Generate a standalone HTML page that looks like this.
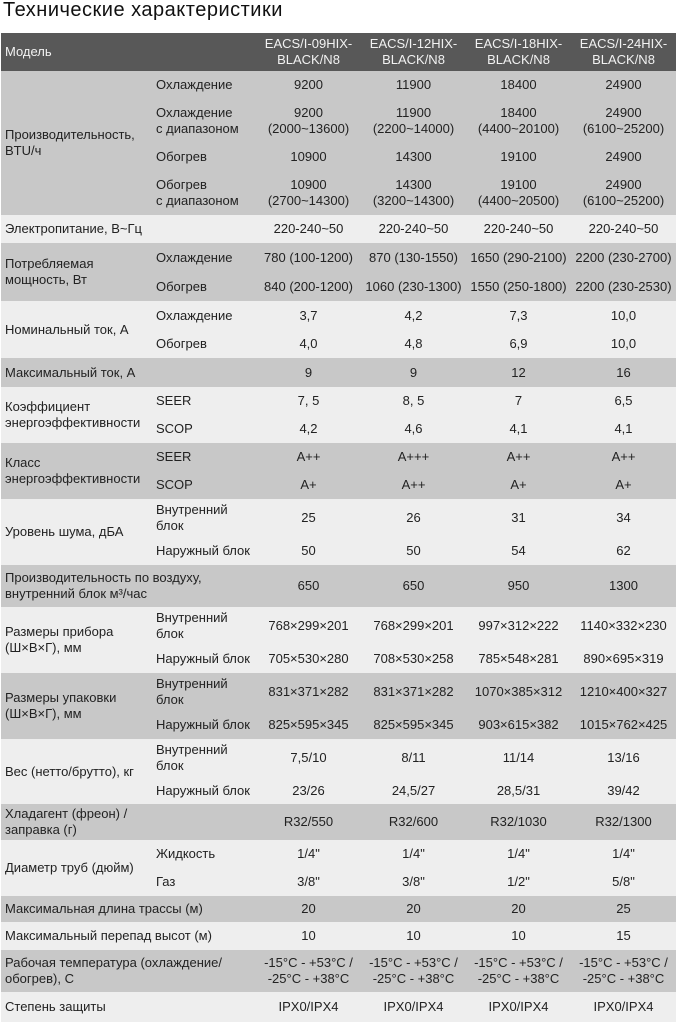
<!DOCTYPE html>
<html><head><meta charset="utf-8">
<style>
body{margin:0;width:678px;height:1026px;background:#fff;position:relative;font-family:"Liberation Sans",sans-serif;color:#222;font-size:13px;overflow:hidden}
.t{position:absolute;left:3px;top:-2px;font-size:20px;letter-spacing:0.5px;line-height:24px;color:#111;white-space:nowrap}
.g{position:absolute;left:1px;width:675px;display:flex;flex-direction:column}
.gr{background:#c8c8c8}
.lt{background:#eeeeee}
.hd{background:#585858;color:#f2f2f2}
.L{position:absolute;left:4px;top:0;height:100%;display:flex;align-items:center;white-space:nowrap;line-height:16px}
.r{display:flex;align-items:center;flex:none}
.s{margin-left:155px;width:100px;flex:none;line-height:16px;white-space:nowrap}
.v{width:105px;flex:none;text-align:center;line-height:16px;white-space:nowrap}
</style></head><body>
<div class="t">Технические характеристики</div>

<div class="g hd" style="top:33px;height:38px">
 <div class="L">Модель</div>
 <div class="r" style="height:38px"><span class="s"></span><span class="v">EACS/I-09HIX-<br>BLACK/N8</span><span class="v">EACS/I-12HIX-<br>BLACK/N8</span><span class="v">EACS/I-18HIX-<br>BLACK/N8</span><span class="v">EACS/I-24HIX-<br>BLACK/N8</span></div>
</div>

<div class="g gr" style="top:71px;height:144px">
 <div class="L">Производительность,<br>BTU/ч</div>
 <div class="r" style="height:28px"><span class="s">Охлаждение</span><span class="v">9200</span><span class="v">11900</span><span class="v">18400</span><span class="v">24900</span></div>
 <div class="r" style="height:44px"><span class="s">Охлаждение<br>с диапазоном</span><span class="v">9200<br>(2000~13600)</span><span class="v">11900<br>(2200~14000)</span><span class="v">18400<br>(4400~20100)</span><span class="v">24900<br>(6100~25200)</span></div>
 <div class="r" style="height:28px"><span class="s">Обогрев</span><span class="v">10900</span><span class="v">14300</span><span class="v">19100</span><span class="v">24900</span></div>
 <div class="r" style="height:44px"><span class="s">Обогрев<br>с диапазоном</span><span class="v">10900<br>(2700~14300)</span><span class="v">14300<br>(3200~14300)</span><span class="v">19100<br>(4400~20500)</span><span class="v">24900<br>(6100~25200)</span></div>
</div>

<div class="g lt" style="top:215px;height:28px">
 <div class="L">Электропитание, В~Гц</div>
 <div class="r" style="height:28px"><span class="s"></span><span class="v">220-240~50</span><span class="v">220-240~50</span><span class="v">220-240~50</span><span class="v">220-240~50</span></div>
</div>

<div class="g gr" style="top:243px;height:58px">
 <div class="L">Потребляемая<br>мощность, Вт</div>
 <div class="r" style="height:29px"><span class="s">Охлаждение</span><span class="v">780 (100-1200)</span><span class="v">870 (130-1550)</span><span class="v">1650 (290-2100)</span><span class="v">2200 (230-2700)</span></div>
 <div class="r" style="height:29px"><span class="s">Обогрев</span><span class="v">840 (200-1200)</span><span class="v">1060 (230-1300)</span><span class="v">1550 (250-1800)</span><span class="v">2200 (230-2530)</span></div>
</div>

<div class="g lt" style="top:301px;height:57px">
 <div class="L">Номинальный ток, А</div>
 <div class="r" style="height:29px"><span class="s">Охлаждение</span><span class="v">3,7</span><span class="v">4,2</span><span class="v">7,3</span><span class="v">10,0</span></div>
 <div class="r" style="height:28px"><span class="s">Обогрев</span><span class="v">4,0</span><span class="v">4,8</span><span class="v">6,9</span><span class="v">10,0</span></div>
</div>

<div class="g gr" style="top:358px;height:29px">
 <div class="L">Максимальный ток, А</div>
 <div class="r" style="height:29px"><span class="s"></span><span class="v">9</span><span class="v">9</span><span class="v">12</span><span class="v">16</span></div>
</div>

<div class="g lt" style="top:387px;height:56px">
 <div class="L">Коэффициент<br>энергоэффективности</div>
 <div class="r" style="height:28px"><span class="s">SEER</span><span class="v">7, 5</span><span class="v">8, 5</span><span class="v">7</span><span class="v">6,5</span></div>
 <div class="r" style="height:28px"><span class="s">SCOP</span><span class="v">4,2</span><span class="v">4,6</span><span class="v">4,1</span><span class="v">4,1</span></div>
</div>

<div class="g gr" style="top:443px;height:56px">
 <div class="L">Класс<br>энергоэффективности</div>
 <div class="r" style="height:28px"><span class="s">SEER</span><span class="v">A++</span><span class="v">A+++</span><span class="v">A++</span><span class="v">A++</span></div>
 <div class="r" style="height:28px"><span class="s">SCOP</span><span class="v">A+</span><span class="v">A++</span><span class="v">A+</span><span class="v">A+</span></div>
</div>

<div class="g lt" style="top:499px;height:66px">
 <div class="L">Уровень шума, дБА</div>
 <div class="r" style="height:38px"><span class="s">Внутренний<br>блок</span><span class="v">25</span><span class="v">26</span><span class="v">31</span><span class="v">34</span></div>
 <div class="r" style="height:28px"><span class="s">Наружный блок</span><span class="v">50</span><span class="v">50</span><span class="v">54</span><span class="v">62</span></div>
</div>

<div class="g gr" style="top:565px;height:42px">
 <div class="L">Производительность по воздуху,<br>внутренний блок м³/час</div>
 <div class="r" style="height:42px"><span class="s"></span><span class="v">650</span><span class="v">650</span><span class="v">950</span><span class="v">1300</span></div>
</div>

<div class="g lt" style="top:607px;height:66px">
 <div class="L">Размеры прибора<br>(Ш×В×Г), мм</div>
 <div class="r" style="height:38px"><span class="s">Внутренний<br>блок</span><span class="v">768×299×201</span><span class="v">768×299×201</span><span class="v">997×312×222</span><span class="v">1140×332×230</span></div>
 <div class="r" style="height:28px"><span class="s">Наружный блок</span><span class="v">705×530×280</span><span class="v">708×530×258</span><span class="v">785×548×281</span><span class="v">890×695×319</span></div>
</div>

<div class="g gr" style="top:673px;height:66px">
 <div class="L">Размеры упаковки<br>(Ш×В×Г), мм</div>
 <div class="r" style="height:38px"><span class="s">Внутренний<br>блок</span><span class="v">831×371×282</span><span class="v">831×371×282</span><span class="v">1070×385×312</span><span class="v">1210×400×327</span></div>
 <div class="r" style="height:28px"><span class="s">Наружный блок</span><span class="v">825×595×345</span><span class="v">825×595×345</span><span class="v">903×615×382</span><span class="v">1015×762×425</span></div>
</div>

<div class="g lt" style="top:739px;height:65px">
 <div class="L">Вес (нетто/брутто), кг</div>
 <div class="r" style="height:38px"><span class="s">Внутренний<br>блок</span><span class="v">7,5/10</span><span class="v">8/11</span><span class="v">11/14</span><span class="v">13/16</span></div>
 <div class="r" style="height:27px"><span class="s">Наружный блок</span><span class="v">23/26</span><span class="v">24,5/27</span><span class="v">28,5/31</span><span class="v">39/42</span></div>
</div>

<div class="g gr" style="top:804px;height:36px">
 <div class="L">Хладагент (фреон) /<br>заправка (г)</div>
 <div class="r" style="height:36px"><span class="s"></span><span class="v">R32/550</span><span class="v">R32/600</span><span class="v">R32/1030</span><span class="v">R32/1300</span></div>
</div>

<div class="g lt" style="top:840px;height:56px">
 <div class="L">Диаметр труб (дюйм)</div>
 <div class="r" style="height:28px"><span class="s">Жидкость</span><span class="v">1/4"</span><span class="v">1/4"</span><span class="v">1/4"</span><span class="v">1/4"</span></div>
 <div class="r" style="height:28px"><span class="s">Газ</span><span class="v">3/8"</span><span class="v">3/8"</span><span class="v">1/2"</span><span class="v">5/8"</span></div>
</div>

<div class="g gr" style="top:896px;height:26px">
 <div class="L">Максимальная длина трассы (м)</div>
 <div class="r" style="height:26px"><span class="s"></span><span class="v">20</span><span class="v">20</span><span class="v">20</span><span class="v">25</span></div>
</div>

<div class="g lt" style="top:922px;height:28px">
 <div class="L">Максимальный перепад высот (м)</div>
 <div class="r" style="height:28px"><span class="s"></span><span class="v">10</span><span class="v">10</span><span class="v">10</span><span class="v">15</span></div>
</div>

<div class="g gr" style="top:950px;height:42px">
 <div class="L">Рабочая температура (охлаждение/<br>обогрев), С</div>
 <div class="r" style="height:42px"><span class="s"></span><span class="v">-15°C - +53°C /<br>-25°C - +38°C</span><span class="v">-15°C - +53°C /<br>-25°C - +38°C</span><span class="v">-15°C - +53°C /<br>-25°C - +38°C</span><span class="v">-15°C - +53°C /<br>-25°C - +38°C</span></div>
</div>

<div class="g lt" style="top:992px;height:30px">
 <div class="L">Степень защиты</div>
 <div class="r" style="height:30px"><span class="s"></span><span class="v">IPX0/IPX4</span><span class="v">IPX0/IPX4</span><span class="v">IPX0/IPX4</span><span class="v">IPX0/IPX4</span></div>
</div>
</body></html>
